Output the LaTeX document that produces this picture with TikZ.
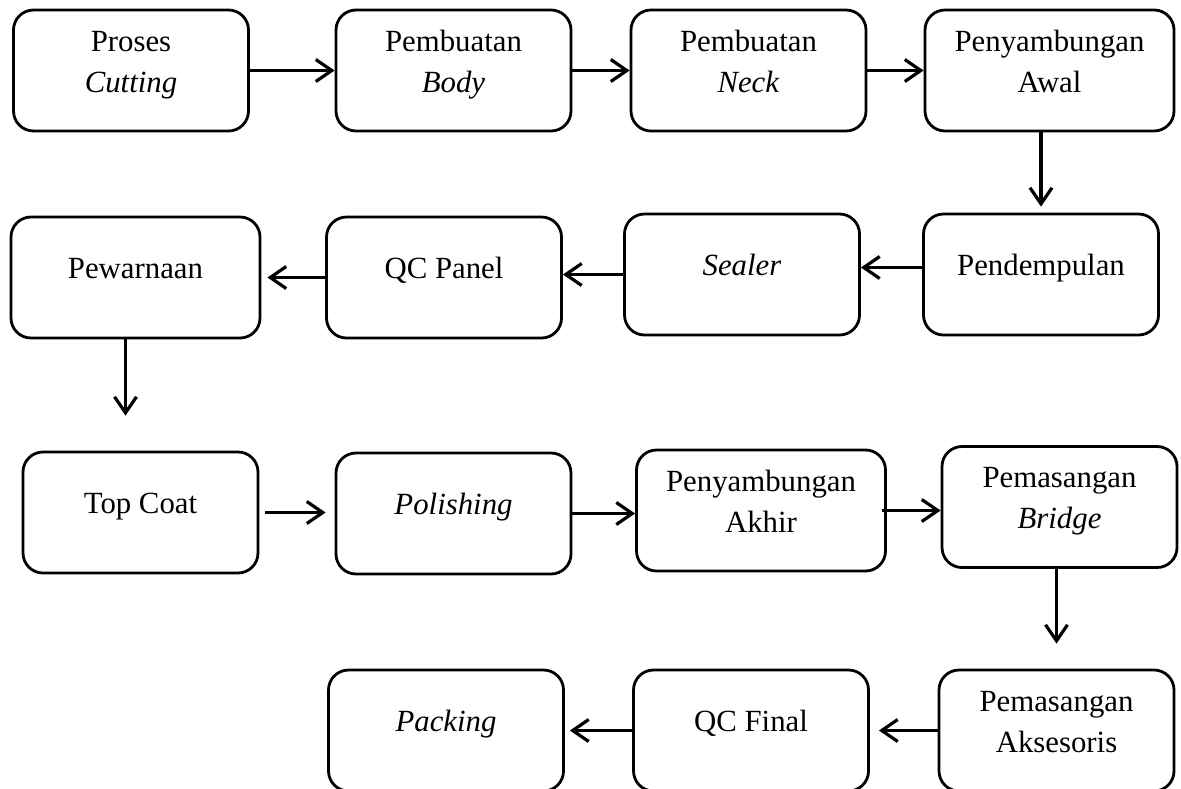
\documentclass[tikz,border=0pt]{standalone}
\usepackage{fontspec}
\setmainfont{Liberation Serif}
\usepackage{tikz}
\usetikzlibrary{positioning,calc}
\usetikzlibrary{arrows.meta}
\tikzstyle{proses} = [rectangle, rounded corners=10pt, minimum width=117.5pt, minimum height=60.5pt, draw=black, line width=1.4pt]
\tikzstyle{lebar} = [minimum width=124.5pt]
\tikzstyle{arrow} = [line width=1.6pt,-{Straight Barb[length=8pt,width=11pt]}]
\newcommand{\teks}[1]{\raisebox{0pt}[0pt][0pt]{\begin{tabular}{@{}c@{}}#1\end{tabular}}}

\begin{document}
\begin{tikzpicture}[x=0.5pt,y=-0.5pt,font=\fontsize{15.4}{20.5}\selectfont]
\useasboundingbox (0,0) rectangle (1181,788);
\clip (0,0) rectangle (1181,788);
% baris 1
\node (b1) at (131,70.5) [proses] {\teks{Proses\\\textit{Cutting}}};
\node (b2) at (453.5,70.5) [proses] {\teks{Pembuatan\\\textit{Body}}};
\node (b3) at (748.5,70.5) [proses] {\teks{Pembuatan\\\textit{Neck}}};
\node (b4) at (1049.5,70.5) [proses,lebar] {\teks{Penyambungan\\Awal}};
% baris 2
\node (b5) at (1041,274.5) [proses] {\teks{Pendempulan}};
\node (b6) at (742,274.5) [proses] {\teks{\textit{Sealer}}};
\node (b7) at (444,277.5) [proses] {\teks{QC Panel}};
\node (b8) at (135.5,277.5) [proses,lebar] {\teks{Pewarnaan}};
% baris 3
\node (b9) at (140.5,512.5) [proses] {\teks{Top Coat}};
\node (b10) at (453.5,513.5) [proses] {\teks{\textit{Polishing}}};
\node (b11) at (761,510.5) [proses,lebar] {\teks{Penyambungan\\Akhir}};
\node (b12) at (1059.5,507) [proses] {\teks{Pemasangan\\\textit{Bridge}}};
% baris 4
\node (b13) at (1056.5,730.5) [proses] {\teks{Pemasangan\\Aksesoris}};
\node (b14) at (751,730.5) [proses] {\teks{QC Final}};
\node (b15) at (446,730.5) [proses] {\teks{\textit{Packing}}};

\coordinate (p5) at ([yshift=3.5pt]b5.west);
\coordinate (p8) at ([xshift=-5pt]b8.south);

\draw [arrow] (b1.east) -- (b2.west);
\draw [arrow] (b2.east) -- (b3.west);
\draw [arrow] (b3.east) -- (b4.west);
\draw [arrow,shorten >=3pt] (b5.north |- b4.south) -- (b5.north);
\draw [arrow] (p5) -- (p5 -| b6.east);
\draw [arrow] (b6.west) -- (b6.west -| b7.east);
\draw [arrow,shorten >=3pt] (b7.west) -- (b7.west -| b8.east);
\draw [arrow,shorten >=17.5pt] (p8) -- (p8 |- b9.north);
\draw [arrow,shorten <=3pt,shorten >=4.5pt] (b9.east) -- (b9.east -| b10.west);
\draw [arrow] (b10.east) -- (b10.east -| b11.west);
\draw [arrow,shorten <=-2.5pt] (b11.east) -- (b11.east -| b12.west);
\draw [arrow,shorten >=12.5pt] (b13.north |- b12.south) -- (b13.north);
\draw [arrow,shorten >=4.5pt] (b13.west) -- (b14.east);
\draw [arrow,shorten >=2.5pt] (b14.west) -- (b15.east);
\end{tikzpicture}
\end{document}
